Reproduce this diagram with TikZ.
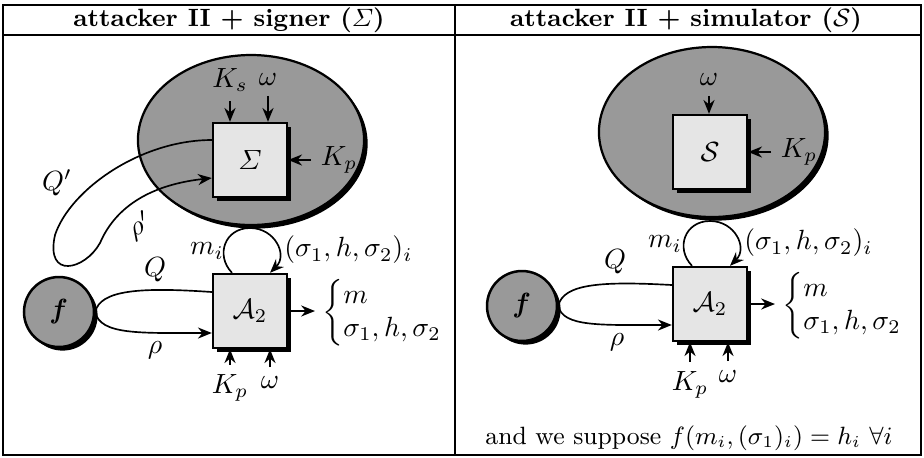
\documentclass[tikz,border=0pt]{standalone}
\usepackage{amsmath}
\usetikzlibrary{arrows.meta,shapes.geometric,shadows,calc}
\begin{document}
\begin{tikzpicture}[x=0.36pt,y=-0.36pt,
  >={Stealth[length=5pt,width=4pt]},
  shad/.style={drop shadow={shadow xshift=1.3pt,shadow yshift=-1.3pt,fill=black,opacity=1}},
  env/.style={ellipse,draw,line width=0.8pt,fill=black!40,minimum width=81.4pt,minimum height=61.2pt,inner sep=0pt,shad},
  blk/.style={rectangle,draw,line width=0.9pt,fill=black!10,minimum size=26.6pt,inner sep=0pt,shad},
  orc/.style={circle,draw,line width=0.9pt,fill=black!40,minimum size=25.2pt,inner sep=0pt,shad},
  conn/.style={line width=0.6pt},
  hdr/.style={font=\fontsize{9}{11}\selectfont\bfseries},
  rulel/.style={line width=0.7pt}]
\useasboundingbox (0,0) rectangle (924,457);
% table
\draw[rulel] (3,5) rectangle (921,455);
\draw[rulel] (3,35) -- (921,35);
\draw[rulel] (455,5) -- (455,455);
\node[hdr] (h1) at (229,20) {attacker II + signer ($\varSigma$)};
\node[hdr] (h2) at (686,20) {attacker II + simulator ($\mathcal{S}$)};

% ===== left panel =====
\node[env] (e1) at (251,140) {};
\node[blk] (sig) at (250,160) {$\varSigma$};
\node[blk] (a1) at (250,311) {$\mathcal{A}_2$};
\node[orc] (f1) at (59,312) {\textbf{\textit{f}}};

\node (ks) at (230,80) {$K_s$};
\node (w1) at (268,80) {$\omega$};
\draw[conn,->] (ks.south) -- (ks.south |- sig.north);
\draw[conn,->] (w1.south) -- (w1.south |- sig.north);
\node[anchor=west] (kp1) at (311,160) {$K_p$};
\draw[conn,->] (kp1.west) -- (kp1.west -| sig.east);

\draw[conn,->] ($(sig.west)+(0,-20)$) .. controls (140,140) and (70,190) .. (55,235)
  .. controls (45,280) and (85,270) .. (100,243)
  .. controls (112,215) and (140,186) .. ($(sig.west)+(0,18)$);
\node (qp1) at (57,183) {$Q'$};
\node[rotate=25,inner sep=1pt] (rp1) at (140,226) {$\rho'$};

\draw[conn,->] ($(a1.north)+(-18,0)$) .. controls (215,255) and (225,228) .. (250,228)
  .. controls (275,228) and (288,255) .. ($(a1.north)+(20,0)$);
\node (mi1) at (207,251) {$m_i$};
\node[anchor=west,inner sep=1pt] (si1) at (281,250) {$(\sigma_1,h,\sigma_2)_i$};

\draw[conn] (f1.east) .. controls (100,290) and (140,287) .. ($(a1.west)+(0,-19)$);
\draw[conn,->] (f1.east) .. controls (100,335) and (140,333) .. ($(a1.west)+(0,22)$);
\node (q1) at (155,270) {$Q$};
\node (r1) at (155,350) {$\rho$};

\coordinate (o1) at (315,311);
\draw[conn,->] (a1.east) -- (o1);
\node[anchor=west,inner sep=0pt] (out1) at (322,313) {$\left\{\begin{array}{@{}l}m\\ \sigma_1,h,\sigma_2\end{array}\right.$};

\node (kp2) at (230,388) {$K_p$};
\node (w2) at (270,383) {$\omega$};
\draw[conn,->] (kp2.north) -- (kp2.north |- a1.south);
\draw[conn,->] (w2.north) -- (w2.north |- a1.south);

% ===== right panel =====
\node[env] (e2) at (712,132) {};
\node[blk] (sim) at (710,152) {$\mathcal{S}$};
\node[blk] (a2) at (710,304) {$\mathcal{A}_2$};
\node[orc] (f2) at (522,306) {\textbf{\textit{f}}};

\node (w3) at (709,80) {$\omega$};
\draw[conn,->] (w3.south) -- (w3.south |- sim.north);
\node[anchor=west] (kp3) at (771,152) {$K_p$};
\draw[conn,->] (kp3.west) -- (kp3.west -| sim.east);

\draw[conn,->] ($(a2.north)+(-18,0)$) .. controls (675,248) and (685,221) .. (710,221)
  .. controls (735,221) and (748,248) .. ($(a2.north)+(20,0)$);
\node (mi2) at (665,244) {$m_i$};
\node[anchor=west,inner sep=1pt] (si2) at (741,243) {$(\sigma_1,h,\sigma_2)_i$};

\draw[conn] (f2.east) .. controls (563,284) and (600,281) .. ($(a2.west)+(0,-19)$);
\draw[conn,->] (f2.east) .. controls (563,327) and (600,325) .. ($(a2.west)+(0,21)$);
\node (q2) at (615,262) {$Q$};
\node (r2) at (617,342) {$\rho$};

\coordinate (o2) at (775,304);
\draw[conn,->] (a2.east) -- (o2);
\node[anchor=west,inner sep=0pt] (out2) at (782,306) {$\left\{\begin{array}{@{}l}m\\ \sigma_1,h,\sigma_2\end{array}\right.$};

\node (kp4) at (690,385) {$K_p$};
\node (w4) at (728,377) {$\omega$};
\draw[conn,->] (kp4.north) -- (kp4.north |- a2.south);
\draw[conn,->] (w4.north) -- (w4.north |- a2.south);

\node[font=\fontsize{9}{11}\selectfont] (note) at (689,438) {and we suppose $f(m_i,(\sigma_1)_i)=h_i\ \forall i$};
\end{tikzpicture}
\end{document}
